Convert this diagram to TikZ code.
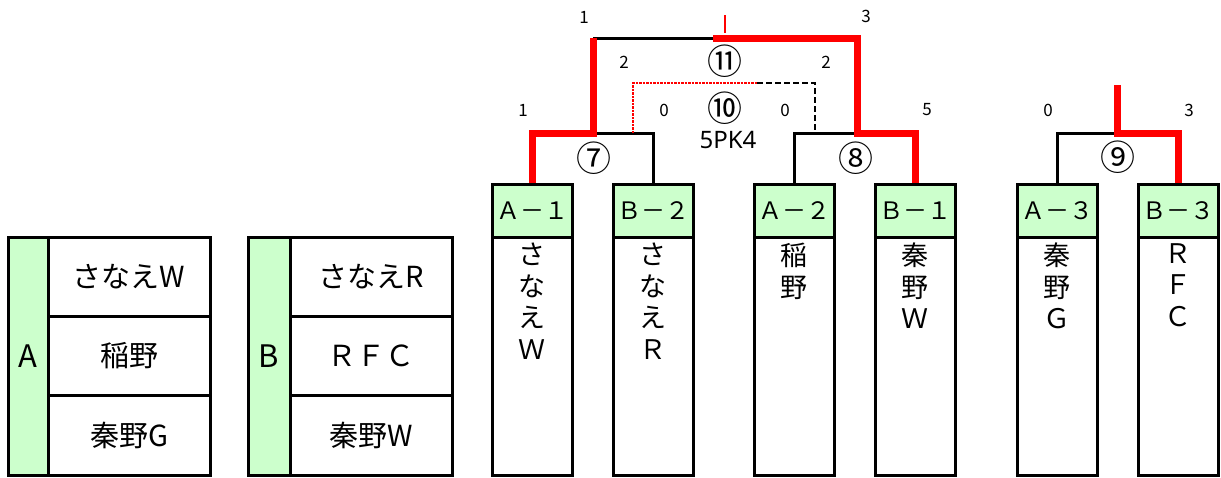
\documentclass[tikz,border=0pt]{standalone}
\usepackage{fontspec}
\setmainfont{Noto Sans CJK JP}
\newfontfamily\latinsans{Noto Sans}
\definecolor{lgreen}{HTML}{CCFFCC}
\definecolor{wred}{HTML}{FF0000}
\begin{document}
\begin{tikzpicture}[x=1pt,y=-1pt,
  box/.style={draw=black, line width=3pt, inner sep=0pt, outer sep=0pt},
  hdr/.style={box, fill=lgreen, minimum width=80pt, minimum height=53pt, font=\fontsize{24}{26}\selectfont},
  body/.style={box, fill=white, minimum width=80pt, minimum height=238pt},
  vtext/.style={anchor=north, inner sep=0pt, align=center, font=\fontsize{27}{31.5}\selectfont},
  gcol/.style={box, fill=lgreen, minimum height=238pt, font=\fontsize{31}{31}\selectfont},
  trow/.style={box, fill=white, minimum width=162pt, minimum height=79.33pt, font=\fontsize{29}{29}\selectfont},
  score/.style={inner sep=0pt, font=\fontsize{17}{17}\selectfont},
  circ/.style={inner sep=0pt, font=\fontsize{35}{35}\selectfont},
  blk/.style={draw=black, line width=3pt},
  win/.style={draw=wred, line width=7pt},
  pkred/.style={draw=wred, line width=2.5pt, densely dotted},
  pkblk/.style={draw=black, line width=2.5pt, dash pattern=on 6pt off 3pt},
]
\useasboundingbox (0,0) rectangle (1221,477);

% ---------- bracket junctions ----------
\coordinate (c1) at (532,133);
\coordinate (j7) at (593,133);
\coordinate (c2) at (653,133);
\coordinate (t7) at (593,38);
\coordinate (tm) at (713,38);
\coordinate (t8) at (857,38);
\coordinate (j8) at (857,133);
\coordinate (c3) at (794,133);
\coordinate (c4) at (915,133);
\coordinate (tick1) at (725,15);
\coordinate (tick2) at (725,33);
\coordinate (p1) at (633,133);
\coordinate (p2) at (633,83);
\coordinate (p3) at (757,83);
\coordinate (p4) at (815,83);
\coordinate (p5) at (815,133);
\coordinate (c5) at (1057,133);
\coordinate (j9) at (1117,133);
\coordinate (t9) at (1117,85);
\coordinate (c6) at (1178,133);

% ---------- columns ----------
\node[hdr] (h1) at (532,210.5) {Ａ－１};
\node[hdr] (h2) at (653,210.5) {Ｂ－２};
\node[hdr] (h3) at (794,210.5) {Ａ－２};
\node[hdr] (h4) at (915,210.5) {Ｂ－１};
\node[hdr] (h5) at (1057,210.5) {Ａ－３};
\node[hdr] (h6) at (1178,210.5) {Ｂ－３};

% ---------- bracket lines ----------
\draw[blk] (h2.north) -- (c2) -- (j7);
\draw[blk] (t7) -- (tm);
\draw[blk] (h3.north) -- (c3) -- (j8);
\draw[blk] (h5.north) -- (c5) -- (j9);
\draw[pkblk] (p3) -- (p4) -- (p5);
\draw[pkred] (p1) -- (p2) -- (p3);
\draw[win] (h1.north) -- (c1) -- (j7) -- (t7);
\draw[win] (tm) -- (t8) -- (j8) -- (c4) -- (h4.north);
\draw[win] (t9) -- (j9) -- (c6) -- (h6.north);
\draw[draw=wred, line width=1.5pt] (tick1) -- (tick2);

% redraw header borders on top
\foreach \n in {h1,h2,h3,h4,h5,h6} {\draw[line width=3pt] (\n.south west) rectangle (\n.north east);}

\node[body] (b1) at (532,356) {};
\node[body] (b2) at (653,356) {};
\node[body] (b3) at (794,356) {};
\node[body] (b4) at (915,356) {};
\node[body] (b5) at (1057,356) {};
\node[body] (b6) at (1178,356) {};

\node[vtext] (v1) at ([yshift=-6pt]b1.north) {さ\\な\\え\\Ｗ};
\node[vtext] (v2) at ([yshift=-6pt]b2.north) {さ\\な\\え\\Ｒ};
\node[vtext] (v3) at ([yshift=-6pt]b3.north) {稲\\野};
\node[vtext] (v4) at ([yshift=-6pt]b4.north) {秦\\野\\Ｗ};
\node[vtext] (v5) at ([yshift=-6pt]b5.north) {秦\\野\\Ｇ};
\node[vtext] (v6) at ([yshift=-6pt]b6.north) {Ｒ\\Ｆ\\Ｃ};

% ---------- group tables ----------
\node[gcol, minimum width=40pt] (ga) at (28,356) {A};
\node[trow] (a1) at (129,276.67) {さなえW};
\node[trow] (a2) at (129,356) {稲野};
\node[trow] (a3) at (129,435.33) {秦野G};

\node[gcol, minimum width=42pt] (gb) at (269,356) {B};
\node[trow] (r1) at (371,276.67) {さなえR};
\node[trow] (r2) at (371,356) {ＲＦＣ};
\node[trow] (r3) at (371,435.33) {秦野W};

% ---------- scores ----------
\node[score] (s1) at (584,17) {1};
\node[score] (s2) at (866,16) {3};
\node[score] (s3) at (624,62) {2};
\node[score] (s4) at (826,62) {2};
\node[score] (s5) at (523,110) {1};
\node[score] (s6) at (664,110) {0};
\node[score] (s7) at (785,110) {0};
\node[score] (s8) at (927,110) {5};
\node[score] (s9) at (1048,110) {0};
\node[score] (s10) at (1189,110) {3};

% ---------- match numbers ----------
\node[circ] (m11) at (725,61) {⑪};
\node[circ] (m10) at (725,108) {⑩};
\node[inner sep=0pt, font=\latinsans\fontsize{24}{24}\selectfont] (pk) at (728,140) {5PK4};
\node[circ] (m7) at (594,158) {⑦};
\node[circ] (m8) at (856,158) {⑧};
\node[circ] (m9) at (1118,157) {⑨};
\end{tikzpicture}
\end{document}
